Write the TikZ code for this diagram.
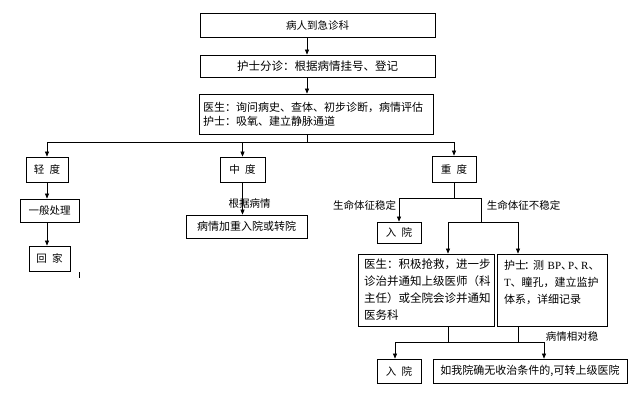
\documentclass[tikz,border=0pt]{standalone}
\usepackage{fontspec}
\setmainfont{Noto Sans CJK SC}
\newfontfamily\latf{Liberation Serif}
\usetikzlibrary{arrows.meta}
\newcommand{\dnL}[1]{\makebox[7pt][l]{#1}}
\newcommand{\dnC}[1]{\makebox[7pt][c]{#1}}
\tikzset{
    boxG/.style args={#1 #2}{
        draw, line width=0.8pt, inner sep=0pt,
        minimum width=#1, minimum height=#2
    },
    boxG/.default={44pt 24pt}
}
\tikzset{
    arrowG/.style={line width=0.6pt, -{Triangle[length=5pt,width=4pt]}},
    lineG/.style={line width=0.6pt},
    lbl/.style={inner sep=0pt, font=\fontsize{10.5}{12}\selectfont}
}

\begin{document}
\begin{tikzpicture}[x=1pt, y=-1pt]
    \def \fs {\fontsize{10.5}{12}\selectfont}
    \def \fm {\fontsize{11.5}{17}\selectfont}
    \useasboundingbox (0,0) rectangle (639,415);
    \tikzstyle{every node}=[font=\fs];
    % junctions
    \coordinate (sp) at (307, 0);
    \coordinate (j1) at (307, 142);
    \coordinate (j2) at (454, 198);
    \coordinate (j3) at (481, 222);
    \coordinate (k1) at (448, 222);
    \coordinate (k2) at (518, 222);
    \coordinate (m0) at (395, 342);
    \coordinate (m1) at (448, 342);
    \coordinate (m2) at (518, 342);
    \coordinate (m3) at (544, 342);
    % boxes
    \node[boxG={235pt 24pt}] (b1) at (317.5, 25) {病人到急诊科};
    \node[boxG={235pt 22pt}, font=\fontsize{11.5}{13}\selectfont] (b2) at (317.5, 66) {护士分诊：根据病情挂号、登记};
    \node[boxG={234pt 40pt}, text width=226pt, align=left, font=\fontsize{11}{14}\selectfont] (b3) at (316, 114)
        {医生：询问病史、查体、初步诊断，病情评估\\护士：吸氧、建立静脉通道};
    \node[boxG={42pt 25pt}] (c1) at (47, 169.5) {轻\enspace 度};
    \node[boxG={45pt 25pt}] (c2) at (242.5, 169.5) {中\enspace 度};
    \node[boxG={44pt 26pt}] (c3) at (454, 169) {重\enspace 度};
    \node[boxG={59pt 23pt}] (d1) at (49.5, 210.5) {一般处理};
    \node[boxG={41pt 25pt}] (d2) at (49.5, 258.5) {回\enspace 家};
    \node[boxG={121pt 23pt}, font=\fontsize{11}{13}\selectfont] (e1) at (246.5, 226.5) {病情加重入院或转院};
    \node[boxG={44pt 21pt}] (f1) at (399, 232.5) {入\enspace 院};
    \node[boxG={136pt 72pt}, text width=124pt, align=left, font=\fm] (g1) at (426, 290)
        {医生：积极抢救，进一步\\诊治并通知上级医师（科\\主任）或全院会诊并通知\\医务科};
    \node[boxG={110pt 72pt}, text width=96pt, align=left, font=\fontsize{11}{17}\selectfont] (g2) at (552, 290)
        {\mbox{护士\dnC{：}测~{\latf BP}\dnL{、}{\latf P}\dnL{、}{\latf R}\dnL{、}}\\{\latf T}、瞳孔，建立监护\\体系，详细记录\\\mbox{}};
    \node[boxG={44pt 24pt}] (h1) at (399, 371) {入\enspace 院};
    \node[boxG={194pt 24pt}, font=\fontsize{11}{13}\selectfont] (h2) at (530, 371) {如我院确无收治条件的,可转上级医院};
    % connectors
    \draw[arrowG] (b1.south -| sp) -- (b2.north -| sp);
    \draw[arrowG] (b2.south -| sp) -- (b3.north -| sp);
    \draw[lineG] (b3.south -| sp) -- (j1);
    \draw[arrowG] (j1) -| (c1.north);
    \draw[arrowG] (j1) -| (c2.north);
    \draw[arrowG] (j1) -| (c3.north);
    \draw[arrowG] (c1.south) -- (c1.south |- d1.north);
    \draw[arrowG] (d1.south -| c1) -- (d2.north -| c1);
    \draw[arrowG] (c2.south) -- (c2.south |- e1.north);
    \draw[lineG] (c3.south) -- (j2);
    \draw[arrowG] (j2) -| (f1.north);
    \draw[lineG] (j2) -| (j3);
    \draw[lineG] (k1) -- (k2);
    \draw[arrowG] (k1) -- (k1 |- g1.north);
    \draw[arrowG] (k2) -- (k2 |- g2.north);
    \draw[lineG] (g1.south -| m1) -- (m1);
    \draw[lineG] (g2.south -| m2) -- (m2);
    \draw[lineG] (m0) -- (m3);
    \draw[arrowG] (m0) -- (m0 |- h1.north);
    \draw[arrowG] (m3) -- (m3 |- h2.north);
    \draw[lineG] (79, 272) -- (79, 278);
    % labels
    \node[lbl] (l1) at (249.5, 204) {根据病情};
    \node[lbl] (l2) at (364.5, 205) {生命体征稳定};
    \node[lbl] (l3) at (523.5, 205) {生命体征不稳定};
    \node[lbl] (l4) at (572, 336) {病情相对稳};
\end{tikzpicture}
\end{document}
